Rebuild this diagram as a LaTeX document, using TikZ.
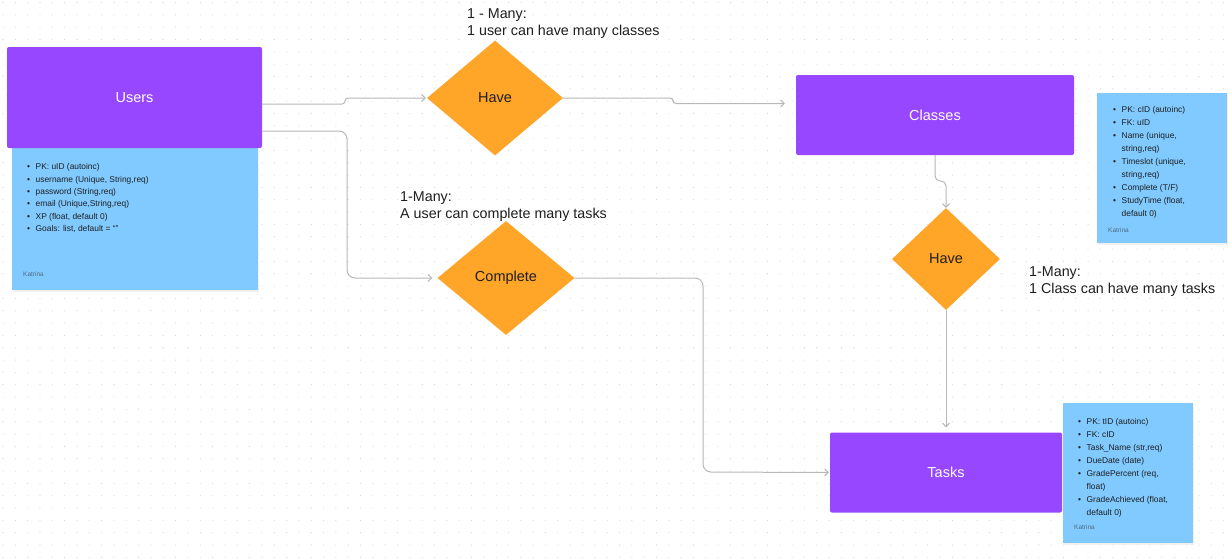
\documentclass[tikz,border=0pt]{standalone}
\usepackage{fontspec}
\setmainfont{Liberation Sans}
\usetikzlibrary{shapes.geometric,arrows.meta}
\definecolor{entityc}{HTML}{9747FF}
\definecolor{relc}{HTML}{FFA629}
\definecolor{stickyc}{HTML}{80CAFF}
\definecolor{linkc}{HTML}{B8B8B8}
\definecolor{inkc}{HTML}{1E1E1E}
\definecolor{dotc}{HTML}{D4D4D4}
\definecolor{signc}{HTML}{4F6B80}
\newcommand\bl[1]{\makebox[8.5pt][l]{\textbullet}#1}
\newcommand\cl[1]{\hspace*{8.5pt}#1}
\begin{document}
\begin{tikzpicture}[x=1pt,y=-1pt,
  entitybox/.style={rectangle, fill=entityc, text=white, rounded corners=2pt,
    font=\fontsize{14.5}{17}\selectfont, inner sep=0},
  relbox/.style={diamond, fill=relc, text=inkc, font=\fontsize{14.5}{17}\selectfont, inner sep=0},
  stickybox/.style={rectangle, fill=stickyc, anchor=north west, inner sep=0},
  notetext/.style={anchor=north west, align=left, text=inkc, inner sep=0},
  signtext/.style={anchor=west, text=signc, font=\fontsize{6.5}{7}\selectfont, inner sep=0},
  cardtext/.style={anchor=north west, align=left, text=inkc, font=\fontsize{14.3}{17}\selectfont, inner sep=0},
  link/.style={draw=linkc, line width=1pt, rounded corners=3pt, -{Straight Barb[length=3.5pt,width=7pt]}}
]
\fill[white] (0,0) rectangle (1228,558);
\useasboundingbox (0,0) rectangle (1228,558);
\foreach \i in {0,...,99}{\foreach \j in {0,...,45}{\fill[dotc] (3+12.33*\i,2.5+12.33*\j) circle (0.55pt);}}

% sticky notes
\fill[black!6] (12.5,149.5) rectangle (258.5,292);
\node[stickybox, minimum width=246pt, minimum height=142pt] (usersnote) at (12,148) {};
\fill[black!6] (1097.5,94.5) rectangle (1227.5,245);
\node[stickybox, minimum width=130pt, minimum height=150pt] (classesnote) at (1097,93) {};
\fill[black!6] (1063.5,404.5) rectangle (1193.5,545);
\node[stickybox, minimum width=130pt, minimum height=140pt] (tasksnote) at (1063,403) {};

\node[notetext, font=\fontsize{8.4}{12.4}\selectfont] (usersitems) at (27,163.5) {%
\bl{PK: uID (autoinc)}\\
\bl{username (Unique, String,req)}\\
\bl{password (String,req)}\\
\bl{email (Unique,String,req)}\\
\bl{XP (float, default 0)}\\
\bl{Goals: list, default = “”}};
\node[signtext] (userssign) at (23,274) {Katrina};

\node[notetext, font=\fontsize{8.4}{13}\selectfont] (classesitems) at (1113,106) {%
\bl{PK: cID (autoinc)}\\
\bl{FK: uID}\\
\bl{Name (unique,}\\
\cl{string,req)}\\
\bl{Timeslot (unique,}\\
\cl{string,req)}\\
\bl{Complete (T/F)}\\
\bl{StudyTime (float,}\\
\cl{default 0)}};
\node[signtext] (classessign) at (1108,230) {Katrina};

\node[notetext, font=\fontsize{8.4}{13}\selectfont] (tasksitems) at (1078,418) {%
\bl{PK: tID (autoinc)}\\
\bl{FK: cID}\\
\bl{Task\_Name (str,req)}\\
\bl{DueDate (date)}\\
\bl{GradePercent (req,}\\
\cl{float)}\\
\bl{GradeAchieved (float,}\\
\cl{default 0)}};
\node[signtext] (taskssign) at (1074,527) {Katrina};

% entities
\node[entitybox, minimum width=255pt, minimum height=101pt] (users) at (134.5,97.5) {Users};
\node[entitybox, minimum width=278pt, minimum height=80pt] (classes) at (935,115) {Classes};
\node[entitybox, minimum width=232pt, minimum height=80pt] (tasks) at (946,472.5) {Tasks};

% relationships
\node[relbox, minimum width=136pt, minimum height=115pt] (have1) at (495,98) {Have};
\node[relbox, minimum width=108pt, minimum height=102pt] (have2) at (946,259) {Have};
\node[relbox, minimum width=137pt, minimum height=114pt] (complete) at (506,278) {Complete};

% cardinality notes
\node[cardtext] (card1) at (467,8) {1 - Many:\\1 user can have many classes};
\node[cardtext] (card2) at (400,191.5) {1-Many:\\A user can complete many tasks};
\node[cardtext] (card3) at (1029,266) {1-Many:\\1 Class can have many tasks};

% connectors
\draw[link] ([yshift=-6.5pt]users.east) -- (345,104) -- (345,98) -- ([xshift=-1pt]have1.west);
\draw[link, rounded corners=8pt] ([yshift=-33.5pt]users.east) -- (347,131) -- (347,278) -- ([xshift=-5pt]complete.west);
\draw[link] (have1.east) -- (673,98) -- (673,103.5) -- ([xshift=-11pt,yshift=11.5pt]classes.west);
\draw[link, rounded corners=5pt] (classes.south) -- (935,181) -- (946,181) -- (have2.north);
\draw[link] (have2.south) -- ([yshift=5pt]tasks.north);
\draw[link, rounded corners=8pt] (complete.east) -- (703,278) -- (703,472) -- ([xshift=-1pt]tasks.west);
\end{tikzpicture}
\end{document}
